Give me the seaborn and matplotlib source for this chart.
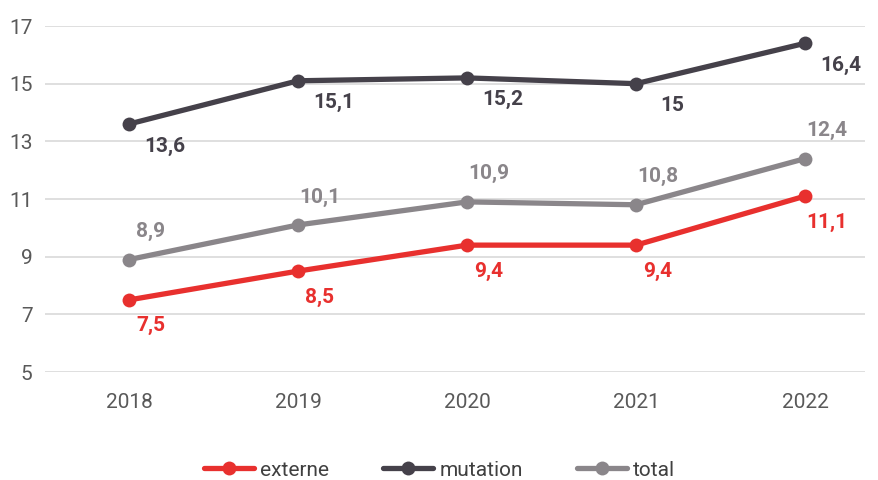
import matplotlib
matplotlib.use("Agg")
import matplotlib.pyplot as plt
import seaborn as sns
import pandas as pd

years = ["2018", "2019", "2020", "2021", "2022"]
externe = [7.5, 8.5, 9.4, 9.4, 11.1]
mutation = [13.6, 15.1, 15.2, 15.0, 16.4]
total = [8.9, 10.1, 10.9, 10.8, 12.4]
series_names = ["externe", "mutation", "total"]
yticks = [5, 7, 9, 11, 13, 15, 17]

colors = {"externe": "#E8302E", "mutation": "#45414A", "total": "#8A868A"}

rows = []
for name, vals in zip(series_names, [externe, mutation, total]):
    for i, (y, v) in enumerate(zip(years, vals)):
        rows.append({"year": y, "x": i, "value": v, "series": name})
df = pd.DataFrame(rows)

sns.set_theme(style="white")
plt.rcParams["font.family"] = ["Roboto", "DejaVu Sans"]

fig = plt.figure(figsize=(8.79, 4.8), dpi=100)
ax = fig.add_axes([45 / 879, 1 - 372 / 480, 820 / 879, 346 / 480])

sns.lineplot(data=df, x="x", y="value", hue="series", palette=colors,
             hue_order=series_names, linewidth=3.8, marker="o", markersize=10,
             markeredgewidth=0, ax=ax, legend=True, zorder=3)

ax.set_ylim(5, 17)
ax.set_xlim(-0.497, 4.355)
ax.set_yticks(yticks)
ax.set_yticklabels([str(t) for t in yticks])
ax.set_xticks(range(len(years)))
ax.set_xticklabels(years)
ax.set_xlabel("")
ax.set_ylabel("")
ax.grid(axis="y", color="#D9D9D9", linewidth=1.2)
ax.set_axisbelow(True)
for s in ax.spines.values():
    s.set_visible(False)
ax.tick_params(axis="both", length=0, labelsize=15, labelcolor="#595959")
ax.tick_params(axis="y", pad=9)
ax.tick_params(axis="x", pad=15)

def fmt(v):
    s = ("%.1f" % v).rstrip("0").rstrip(".")
    return s.replace(".", ",")

offsets = {"externe": (22, -26), "mutation": (36, -22), "total": (22, 28)}
for name, vals in zip(series_names, [externe, mutation, total]):
    dx, dy = offsets[name]
    for i, v in enumerate(vals):
        ax.annotate(fmt(v), (i, v), xytext=(dx, dy), textcoords="offset pixels",
                    ha="center", va="center", fontsize=15, fontweight="bold",
                    color=colors[name], annotation_clip=False)

handles, labels = ax.get_legend_handles_labels()
ax.legend_.remove()
fig.legend(handles, labels, loc="center", bbox_to_anchor=(0.5, 1 - 470 / 480),
           ncol=3, frameon=False, fontsize=15, handlelength=2.4,
           columnspacing=2.6, handletextpad=0.3, labelcolor="#404040")

fig.savefig("out.png", dpi=100)
